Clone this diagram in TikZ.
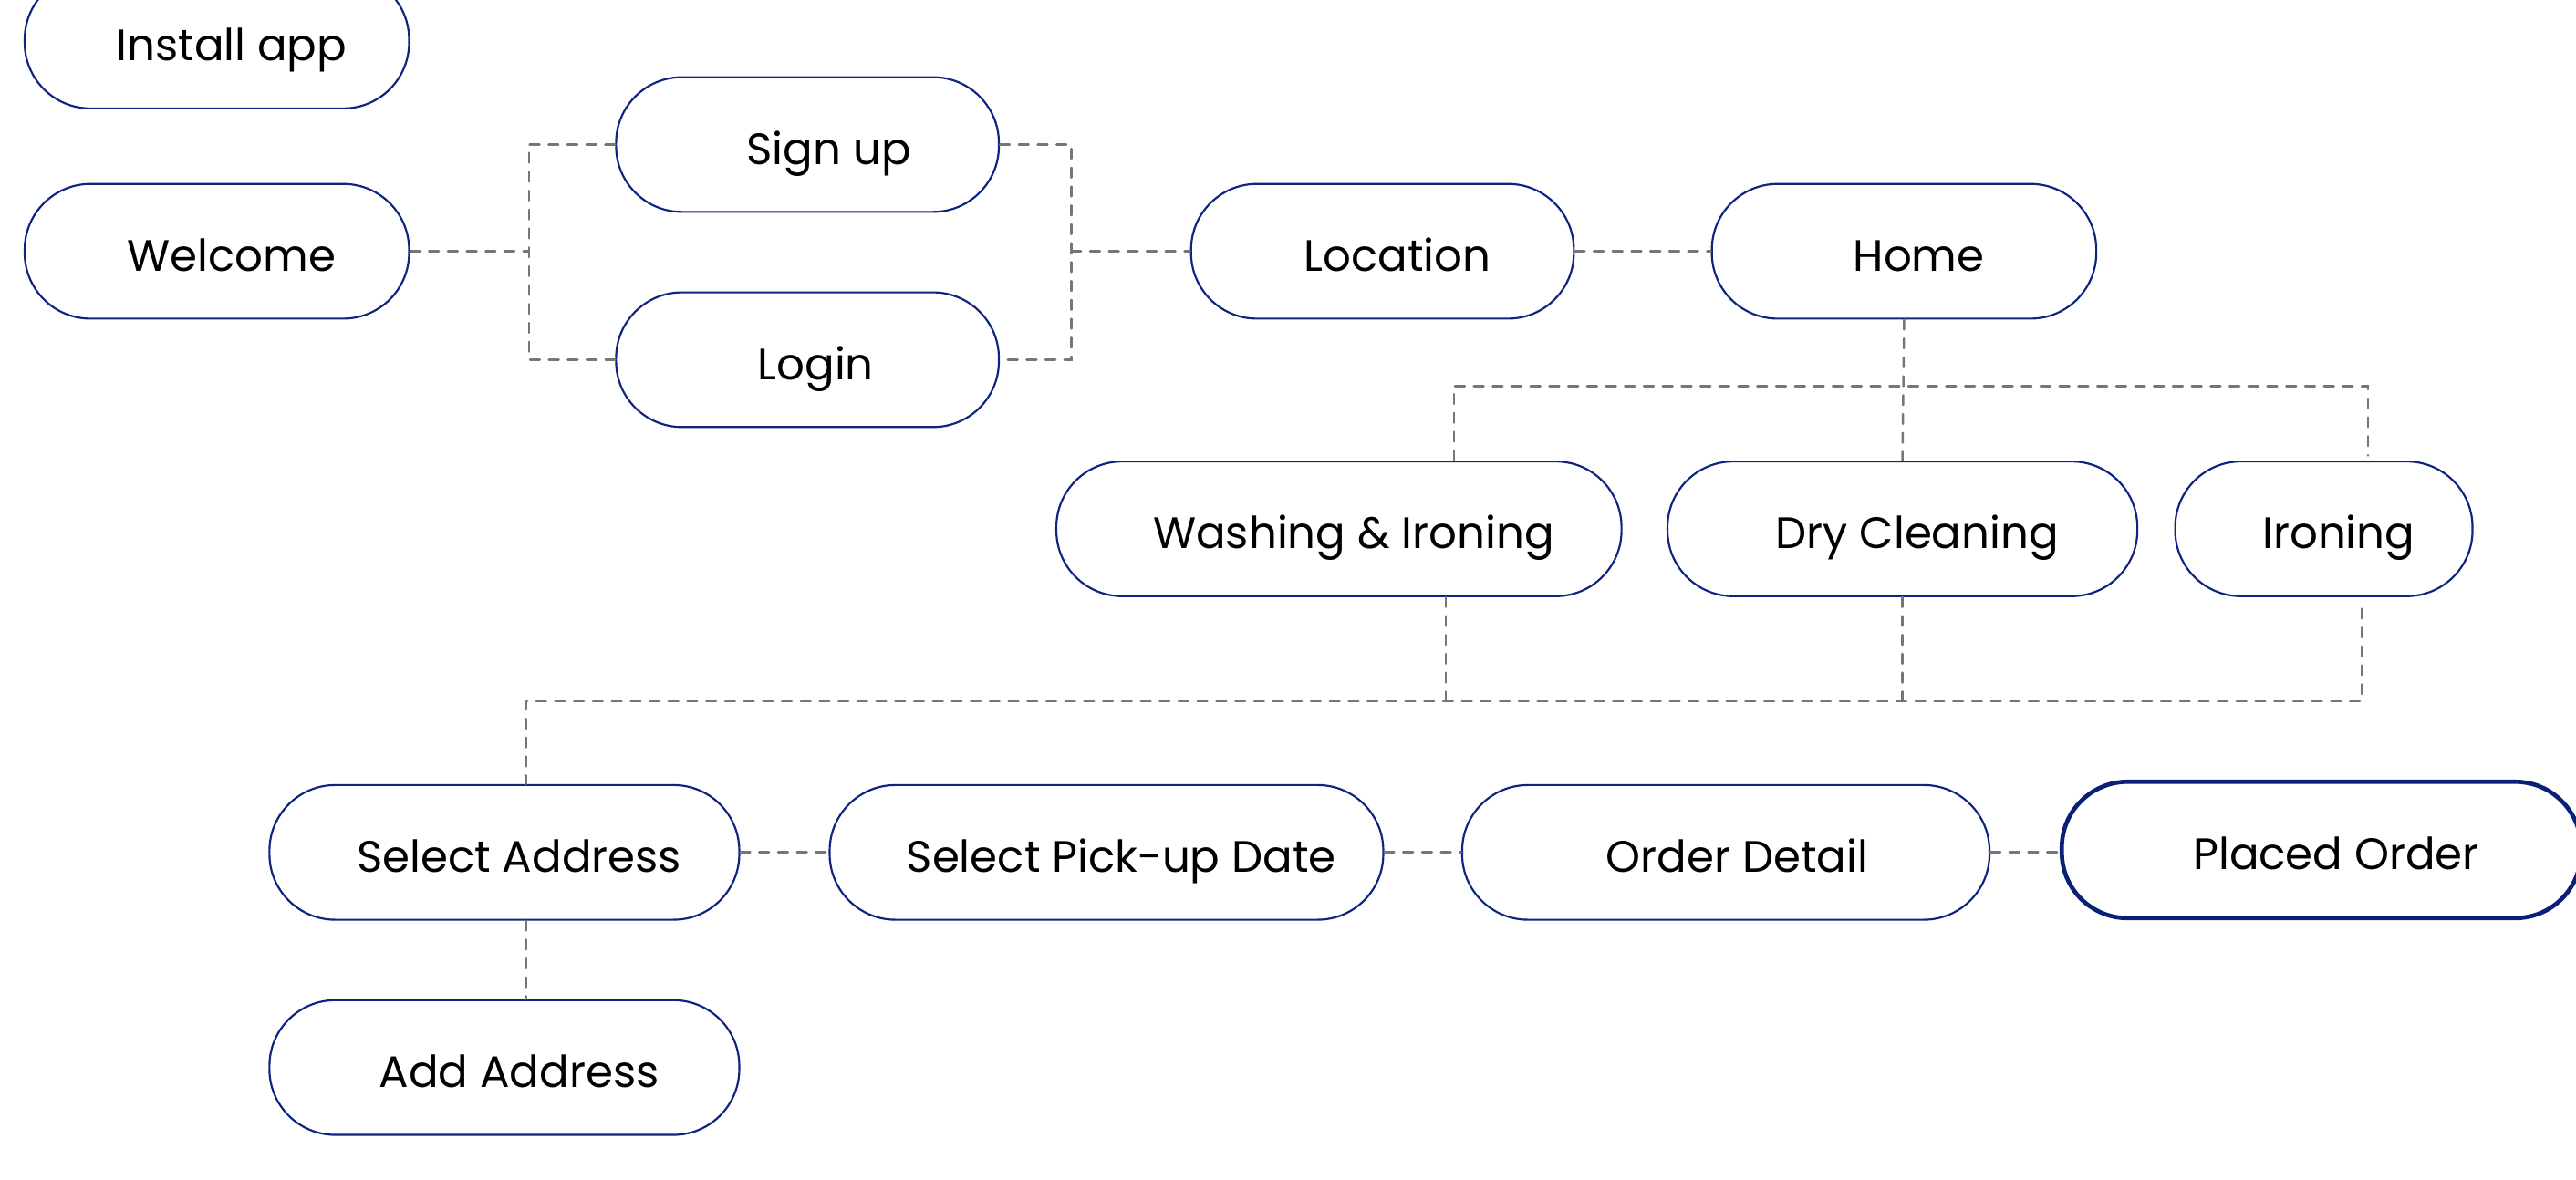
\documentclass[tikz,border=0pt]{standalone}
\usepackage{fontspec}
\setmainfont{Poppins}
\definecolor{navy}{RGB}{14,36,128}
\definecolor{navydark}{RGB}{8,32,118}
\definecolor{dashgray}{RGB}{118,118,118}
\begin{document}
\begin{tikzpicture}[x=1pt,y=-1pt,
  box/.style={draw=navy, line width=1.2pt, rounded corners=40pt, minimum height=82pt,
    inner sep=0pt, text height=24pt, text depth=0pt, fill=white,
    font=\fontsize{26.8}{31}\selectfont, execute at begin node={\hspace*{18pt}}},
  conn/.style={draw=dashgray, line width=1.4pt, line cap=round, dash pattern=on 6pt off 5.5pt}]
\useasboundingbox (0,0) rectangle (1568,718);
% nodes
\node[box, minimum width=234pt] (inst) at (132,25) {Install app};
\node[box, minimum width=234pt] (wel) at (132,153) {Welcome};
\node[box, minimum width=233pt] (sign) at (491.5,88) {\hspace*{8pt}Sign up};
\node[box, minimum width=233pt] (login) at (491.5,219) {\hspace*{-8pt}Login};
\node[box, minimum width=233pt] (loc) at (841.5,153) {Location};
\node[box, minimum width=234pt] (home) at (1159,153) {Home};
\node[box, minimum width=344pt] (wash) at (815,322) {Washing \& Ironing};
\node[box, minimum width=286pt] (dry) at (1158,322) {Dry Cleaning};
\node[box, minimum width=181pt] (iron) at (1414.5,322) {Ironing};
\node[box, minimum width=286pt] (sa) at (307,519) {Select Address};
\node[box, minimum width=337pt] (spd) at (673.5,519) {Select Pick-up Date};
\node[box, minimum width=321pt] (od) at (1050.5,519) {\hspace*{-4pt}Order Detail};
\node[box, minimum width=316pt, minimum height=83pt, line width=2.6pt, draw=navydark] (po) at (1413,517.5) {Placed Order};
\node[box, minimum width=286pt] (aa) at (307,650) {Add Address};
% junctions
\coordinate (j1) at (322,153);
\coordinate (j2) at (652,153);
\coordinate (j3) at (1159,235);
\coordinate (j5) at (320,427);
% connectors
\draw[conn] (wel.east) -- (j1);
\draw[conn] (sign.west) -| (j1) |- (login.west);
\draw[conn] (sign.east) -| (j2) |- (login.east);
\draw[conn] (j2) -- (loc.west);
\draw[conn] (loc.east) -- (home.west);
\draw[conn] (home.south) -- (dry.north);
\draw[conn] ([xshift=70pt]wash.north) |- (j3) -| ([xshift=27pt,yshift=3pt]iron.north);
\draw[conn] ([xshift=65pt]wash.south) -- ([xshift=65pt]wash.south |- j5);
\draw[conn] (dry.south) -- (dry.south |- j5);
\draw[conn] ([xshift=23pt,yshift=-7pt]iron.south) |- (j5) -- ([xshift=13pt]sa.north);
\draw[conn] (sa.east) -- (spd.west);
\draw[conn] (spd.east) -- (od.west);
\draw[conn] (od.east) -- (od.east -| po.west);
\draw[conn] ([xshift=13pt]sa.south) -- ([xshift=13pt]aa.north);
\end{tikzpicture}
\end{document}
